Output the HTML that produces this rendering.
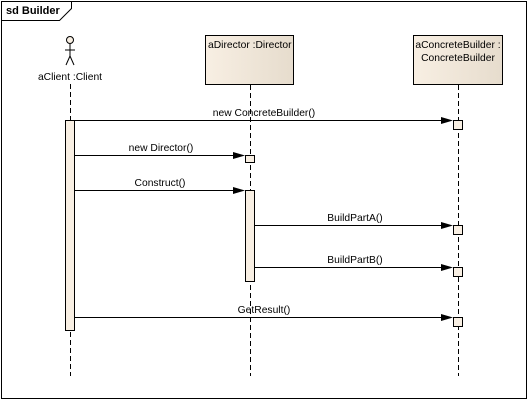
<!DOCTYPE html>
<html><head><style>
body{margin:0;background:#fff;}
svg text{font-family:"Liberation Sans",sans-serif;font-size:10.3px;fill:#000;}
</style></head><body>
<svg width="528" height="400" xmlns="http://www.w3.org/2000/svg">
<defs>
<linearGradient id="g" x1="0" x2="1" y1="0" y2="0"><stop offset="0" stop-color="#f8efe3"/><stop offset="1" stop-color="#e6dccd"/></linearGradient>
</defs>
<rect x="0" y="0" width="528" height="400" fill="#fff"/>
<rect x="1.5" y="1.5" width="525" height="397" fill="none" stroke="#000"/>
<path d="M1.5 20.5 H59.5 L71.5 8.5 V1.5" fill="none" stroke="#000"/>
<text x="6" y="14" style="font-weight:bold;font-size:11px">sd Builder</text>
<circle cx="70" cy="40" r="3.5" fill="#f8efe3" stroke="#000"/>
<path d="M70 44 V56 M65 50 H75 M70 56 L66 65 M70 56 L74 65" stroke="#000" fill="none"/>
<text x="70" y="80" text-anchor="middle">aClient :Client</text>
<rect x="205.5" y="35.5" width="88" height="49" fill="url(#g)" stroke="#000"/>
<text x="208" y="48">aDirector :Director</text>
<rect x="413.5" y="35.5" width="89" height="49" fill="url(#g)" stroke="#000"/>
<text x="458" y="48" text-anchor="middle">aConcreteBuilder :</text>
<text x="458" y="61" text-anchor="middle">ConcreteBuilder</text>
<g stroke="#000" stroke-dasharray="5,3">
<line x1="70.5" y1="84" x2="70.5" y2="376"/>
<line x1="250.5" y1="85" x2="250.5" y2="376"/>
<line x1="458.5" y1="85" x2="458.5" y2="376"/>
</g>
<g fill="#f8efe3" stroke="#000">
<rect x="65.5" y="120.5" width="9" height="210"/>
<rect x="245.5" y="190.5" width="9" height="91"/>
<rect x="245.5" y="155.5" width="9" height="7"/>
<rect x="453.5" y="120.5" width="9" height="9"/>
<rect x="453.5" y="225.5" width="9" height="9"/>
<rect x="453.5" y="267.5" width="9" height="9"/>
<rect x="453.5" y="317.5" width="9" height="9"/>
</g>
<g stroke="#000">
<line x1="75" y1="120.5" x2="443" y2="120.5"/>
<line x1="75" y1="155.5" x2="235" y2="155.5"/>
<line x1="75" y1="190.5" x2="235" y2="190.5"/>
<line x1="255" y1="225.5" x2="443" y2="225.5"/>
<line x1="255" y1="267.5" x2="443" y2="267.5"/>
<line x1="75" y1="317.5" x2="443" y2="317.5"/>
</g>
<g fill="#000">
<path d="M441 117 L453 120.5 L441 124 Z"/>
<path d="M233 152 L245 155.5 L233 159 Z"/>
<path d="M233 187 L245 190.5 L233 194 Z"/>
<path d="M441 222 L453 225.5 L441 229 Z"/>
<path d="M441 264 L453 267.5 L441 271 Z"/>
<path d="M441 314 L453 317.5 L441 321 Z"/>
</g>
<text x="264" y="116" text-anchor="middle">new ConcreteBuilder()</text>
<text x="161" y="151" text-anchor="middle">new Director()</text>
<text x="160" y="186" text-anchor="middle">Construct()</text>
<text x="355" y="221" text-anchor="middle">BuildPartA()</text>
<text x="355" y="263" text-anchor="middle">BuildPartB()</text>
<text x="264" y="313" text-anchor="middle">GetResult()</text>
</svg>
</body></html>
